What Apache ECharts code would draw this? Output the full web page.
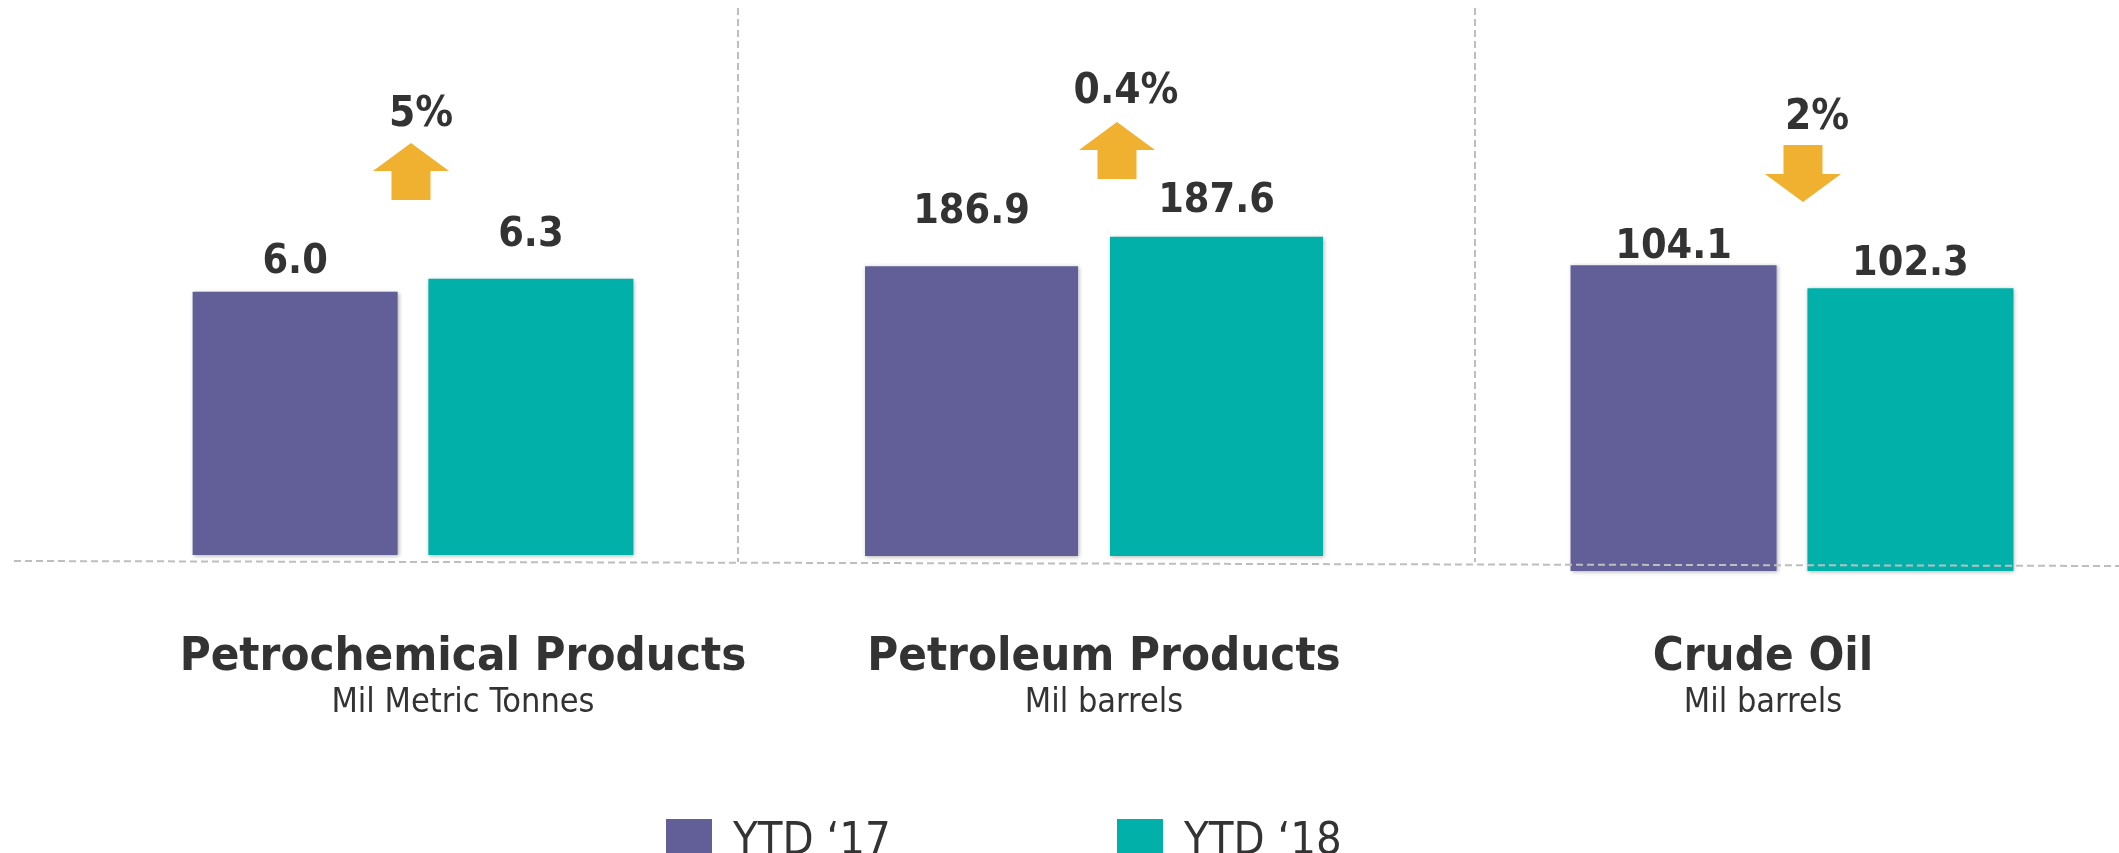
<!DOCTYPE html>
<html>
<head>
<meta charset="utf-8">
<script src="https://cdn.jsdelivr.net/npm/echarts@6/dist/echarts.min.js"></script>
<style>
  html, body { margin: 0; padding: 0; background: #fff; }
  #chart { width: 2119px; height: 853px; }
</style>
</head>
<body>
<div id="chart"></div>
<script>
// data
const categories = ['Petrochemical Products', 'Petroleum Products', 'Crude Oil'];
const units = ['Mil Metric Tonnes', 'Mil barrels', 'Mil barrels'];
const seriesNames = ['YTD \u201817', 'YTD \u201818'];
const ytd17 = [6.0, 186.9, 104.1];
const ytd18 = [6.3, 187.6, 102.3];
const changeLabels = ['5%', '0.4%', '2%'];
const changeUp = [true, true, false];
// each panel has its own value scale
const axisMin = [0, 180, 80];
const axisMax = [7, 190, 110];

const colors = ['#625E97', '#00B0A9'];
const arrowColor = '#F0B030';
const textColor = '#333333';
const font = '"DejaVu Sans Condensed", "DejaVu Sans", sans-serif';

// layout per panel (centre of bar pair, bar width, label gaps, annotations)
const panels = [
  { center: 413, top: 248, bottom: 298, barWidth: 205, dist: [9, 23], arrowX: 411, arrowTop: 143, pctX: 421, pctBase: 127, titleX: 463 },
  { center: 1094, top: 136, bottom: 297, barWidth: 213, dist: [33, 15], arrowX: 1117, arrowTop: 122, pctX: 1126, pctBase: 104, titleX: 1104 },
  { center: 1792, top: 190.5, bottom: 282, barWidth: 206, dist: [-3, 3], arrowX: 1803, arrowTop: 145, pctX: 1817, pctBase: 130, titleX: 1763 }
];

const grids = [], xAxes = [], yAxes = [], series = [], graphics = [];
const values = [ytd17, ytd18];

panels.forEach((p, i) => {
  grids.push({ left: p.center - 300, width: 600, top: p.top, bottom: p.bottom });
  xAxes.push({ type: 'category', gridIndex: i, data: [categories[i]], show: false });
  yAxes.push({ type: 'value', gridIndex: i, min: axisMin[i], max: axisMax[i], show: false });
  values.forEach((vals, j) => {
    series.push({
      type: 'bar',
      name: seriesNames[j],
      xAxisIndex: i,
      yAxisIndex: i,
      data: [vals[i]],
      barWidth: p.barWidth,
      barGap: '15%',
      itemStyle: {
        color: colors[j],
        shadowColor: 'rgba(0,0,0,0.3)',
        shadowBlur: 4,
        shadowOffsetX: 1,
        shadowOffsetY: 1
      },
      label: {
        show: true,
        position: 'top',
        distance: p.dist[j],
        formatter: (d) => d.value.toFixed(1),
        fontSize: 41,
        fontWeight: 'bold',
        fontFamily: font,
        color: textColor
      }
    });
  });

  // change arrow
  const pts = changeUp[i]
    ? [[0, 0], [38, 28], [19.5, 28], [19.5, 57], [-19.5, 57], [-19.5, 28], [-38, 28]]
    : [[-19.5, 0], [19.5, 0], [19.5, 29], [38, 29], [0, 57], [-38, 29], [-19.5, 29]];
  graphics.push({
    type: 'polygon',
    x: p.arrowX, y: p.arrowTop,
    shape: { points: pts },
    style: { fill: arrowColor }
  });
  graphics.push({
    type: 'text',
    x: p.pctX, y: p.pctBase - 12,
    style: { text: changeLabels[i], fill: textColor, font: 'bold 42px ' + font, align: 'center', verticalAlign: 'middle' }
  });
  // category title and unit
  graphics.push({
    type: 'text',
    x: p.titleX, y: 672 - 14,
    style: { text: categories[i], fill: textColor, font: 'bold 47px ' + font, align: 'center', verticalAlign: 'middle' }
  });
  graphics.push({
    type: 'text',
    x: p.titleX, y: 713 - 10,
    style: { text: units[i], fill: textColor, font: '34px ' + font, align: 'center', verticalAlign: 'middle' }
  });
});

// dashed separators
const dash = { stroke: '#BEBEBE', lineWidth: 2, lineDash: [7, 4] };
[738, 1475].forEach(x => {
  graphics.push({ type: 'line', shape: { x1: x, y1: 8, x2: x, y2: 562 }, style: dash, z: 10 });
});
graphics.push({ type: 'line', shape: { x1: 14, y1: 561, x2: 2119, y2: 566 }, style: dash, z: 10 });

const legendBase = {
  top: 814,
  icon: 'rect',
  itemWidth: 46,
  itemHeight: 46,
  selectedMode: false,
  textStyle: { fontSize: 45, fontFamily: font, color: textColor, padding: [0, 0, 0, 16] }
};

const chart = echarts.init(document.getElementById('chart'), null, { renderer: 'canvas' });
chart.setOption({
  animation: false,
  backgroundColor: '#ffffff',
  legend: [
    Object.assign({}, legendBase, { left: 661, data: [seriesNames[0]] }),
    Object.assign({}, legendBase, { left: 1112, data: [seriesNames[1]] })
  ],
  grid: grids,
  xAxis: xAxes,
  yAxis: yAxes,
  series: series,
  graphic: graphics
});
</script>
</body>
</html>
